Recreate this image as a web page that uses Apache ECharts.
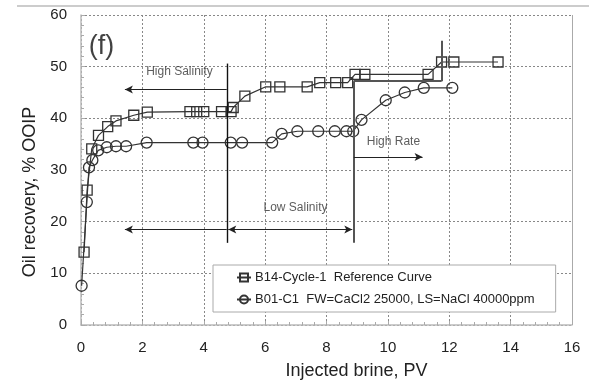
<!DOCTYPE html>
<html>
<head>
<meta charset="utf-8">
<script src="https://cdn.jsdelivr.net/npm/echarts@6/dist/echarts.min.js"></script>
<style>
  html, body { margin: 0; padding: 0; background: #fff; }
  #chart { width: 589px; height: 385px; }
</style>
</head>
<body>
<div id="chart"></div>
<script>
// Reference run: B14-Cycle-1 (injected PV, recovery %OOIP)
const refPV  = [0.10, 0.20, 0.35, 0.57, 0.87, 1.14, 1.72, 2.16, 3.55, 3.77, 4.00, 4.58, 4.89, 4.96, 5.34, 6.02, 6.48, 7.37, 7.78, 8.30, 8.69, 8.93, 9.25, 11.31, 11.75, 12.15, 13.59];
const refRec = [14.1, 26.1, 34.1, 36.7, 38.4, 39.5, 40.6, 41.2, 41.3, 41.3, 41.3, 41.3, 41.3, 42.1, 44.3, 46.1, 46.1, 46.1, 46.9, 46.9, 46.9, 48.5, 48.5, 48.5, 50.9, 50.9, 50.9];

// B01-C1 run: FW=CaCl2 25000, LS=NaCl 40000ppm
const b01PV  = [0.02, 0.19, 0.26, 0.37, 0.56, 0.84, 1.14, 1.47, 2.14, 3.66, 3.96, 4.88, 5.25, 6.23, 6.54, 7.05, 7.73, 8.27, 8.65, 8.87, 9.14, 9.93, 10.55, 11.17, 12.10];
const b01Rec = [7.6, 23.8, 30.5, 31.9, 33.8, 34.4, 34.6, 34.6, 35.3, 35.3, 35.3, 35.3, 35.3, 35.3, 37.0, 37.5, 37.5, 37.5, 37.5, 37.5, 39.7, 43.5, 45.0, 45.9, 45.9];

const seriesNames = ['B14-Cycle-1  Reference Curve', 'B01-C1  FW=CaCl2 25000, LS=NaCl 40000ppm'];

// Stage boundaries (PV) and guide levels (% OOIP)
const lowSalStart = 4.75;
const highRateStart = 8.89;
const rateEndPV = 11.75;
const guideBottom = 15.9;
const guideTop = 50.6;
const stepLevel = 47.2;
const stepTop = 55.0;
const highSalArrowY = 45.6;
const lowSalArrowY = 18.46;
const highRateArrowY = 32.5;
const arrowLeftPV = 1.43;
const highRateArrowEnd = 11.13;

// Annotation texts: [PV, %OOIP, text, fontSize]
const notes = [
  [0.67, 53.96, '(f)', 27],
  [3.21, 49.07, 'High Salinity', 12],
  [10.18, 35.46, 'High Rate', 12],
  [6.99, 22.62, 'Low Salinity', 12]
];

const xTicks = { min: 0, max: 16, interval: 2 };
const yTicks = { min: 0, max: 60, interval: 10 };

const ink = '#333';
const font = 'Liberation Sans, Arial, sans-serif';

function zipPts(xs, ys) { return xs.map((x, i) => [x, ys[i]]); }

function seg(a, b, color, width, symA, symB) {
  return [
    { coord: a, symbol: symA || 'none', lineStyle: { color: color, width: width, type: 'solid' } },
    { coord: b, symbol: symB || 'none' }
  ];
}

const guideLines = [
  seg([lowSalStart, guideTop], [lowSalStart, guideBottom], '#111', 1.4),
  seg([highRateStart, guideBottom], [highRateStart, stepLevel], '#555', 2),
  seg([highRateStart, stepLevel], [rateEndPV, stepLevel], '#555', 2),
  seg([rateEndPV, stepLevel], [rateEndPV, stepTop], '#555', 2),
  seg([lowSalStart, highSalArrowY], [arrowLeftPV, highSalArrowY], '#222', 1, 'none', 'arrow'),
  seg([lowSalStart, lowSalArrowY], [arrowLeftPV, lowSalArrowY], '#222', 1, 'none', 'arrow'),
  seg([lowSalStart + 0.05, lowSalArrowY], [highRateStart - 0.05, lowSalArrowY], '#222', 1, 'arrow', 'arrow'),
  seg([highRateStart, highRateArrowY], [highRateArrowEnd, highRateArrowY], '#222', 1, 'none', 'arrow'),
  seg([xTicks.max, yTicks.min], [xTicks.max, yTicks.max], '#aaa', 1)
];

const chart = echarts.init(document.getElementById('chart'), null, { renderer: 'canvas' });

chart.setOption({
  animation: false,
  backgroundColor: '#fff',
  textStyle: { fontFamily: font },
  grid: { left: 81, right: 17, top: 15, bottom: 57 },
  graphic: [
    { type: 'line', shape: { x1: 17, y1: 6, x2: 589, y2: 6 }, style: { stroke: '#ccc', lineWidth: 2 } }
  ],
  legend: {
    data: seriesNames,
    orient: 'vertical',
    left: 213,
    top: 265,
    padding: [6, 21, 6, 23],
    itemGap: 9,
    itemWidth: 14,
    itemHeight: 10,
    backgroundColor: '#fff',
    borderColor: '#aaa',
    borderWidth: 1,
    borderRadius: 0,
    textStyle: { fontFamily: font, fontSize: 13, color: '#222', padding: [0, 0, 0, -1] }
  },
  xAxis: {
    type: 'value',
    min: xTicks.min, max: xTicks.max, interval: xTicks.interval,
    name: 'Injected brine, PV',
    nameLocation: 'middle',
    nameGap: 37,
    nameTextStyle: { fontFamily: font, fontSize: 18, color: '#222', padding: [0, 0, 0, 60] },
    axisLine: { show: true, lineStyle: { color: '#bbb', width: 1.5 } },
    axisTick: { show: true, inside: true, length: 4, lineStyle: { color: '#aaa' } },
    minorTick: { show: true, splitNumber: 5, length: 3, lineStyle: { color: '#aaa' } },
    axisLabel: { fontFamily: font, fontSize: 15, color: '#222', margin: 15 },
    splitLine: { show: true, lineStyle: { color: '#888', type: [2, 2], width: 1 } }
  },
  yAxis: {
    type: 'value',
    min: yTicks.min, max: yTicks.max, interval: yTicks.interval,
    name: 'Oil recovery, % OOIP',
    nameLocation: 'middle',
    nameGap: 39,
    nameTextStyle: { fontFamily: font, fontSize: 18, color: '#222', padding: [0, 44, 0, 0] },
    axisLine: { show: true, lineStyle: { color: '#bbb', width: 1.5 } },
    axisTick: { show: true, inside: true, length: 4, lineStyle: { color: '#aaa' } },
    minorTick: { show: true, splitNumber: 5, length: 3, lineStyle: { color: '#aaa' } },
    axisLabel: { fontFamily: font, fontSize: 15, color: '#222', margin: 14 },
    splitLine: { show: true, lineStyle: { color: '#888', type: [2, 2], width: 1 } }
  },
  series: [
    {
      name: seriesNames[0],
      type: 'line',
      data: zipPts(refPV, refRec),
      symbol: 'rect',
      symbolSize: 10,
      lineStyle: { color: ink, width: 1.2 },
      itemStyle: { color: 'rgba(255,255,255,0)', borderColor: ink, borderWidth: 1.3 },
      z: 4
    },
    {
      name: seriesNames[1],
      type: 'line',
      data: zipPts(b01PV, b01Rec),
      symbol: 'circle',
      symbolSize: 11,
      lineStyle: { color: ink, width: 1.2 },
      itemStyle: { color: 'rgba(255,255,255,0)', borderColor: ink, borderWidth: 1.3 },
      z: 4
    },
    {
      name: 'guides',
      type: 'line',
      data: [],
      silent: true,
      markLine: {
        silent: true,
        symbolSize: [6, 8],
        label: { show: false },
        emphasis: { disabled: true },
        data: guideLines
      },
      z: 3
    },
    {
      name: 'notes',
      type: 'scatter',
      silent: true,
      symbolSize: 0,
      data: notes.map(n => ({
        value: [n[0], n[1]],
        label: {
          show: true,
          position: 'inside',
          formatter: n[2],
          fontFamily: font,
          fontSize: n[3],
          color: n[3] > 14 ? '#111' : '#333'
        }
      })),
      z: 5
    }
  ]
});
</script>
</body>
</html>
